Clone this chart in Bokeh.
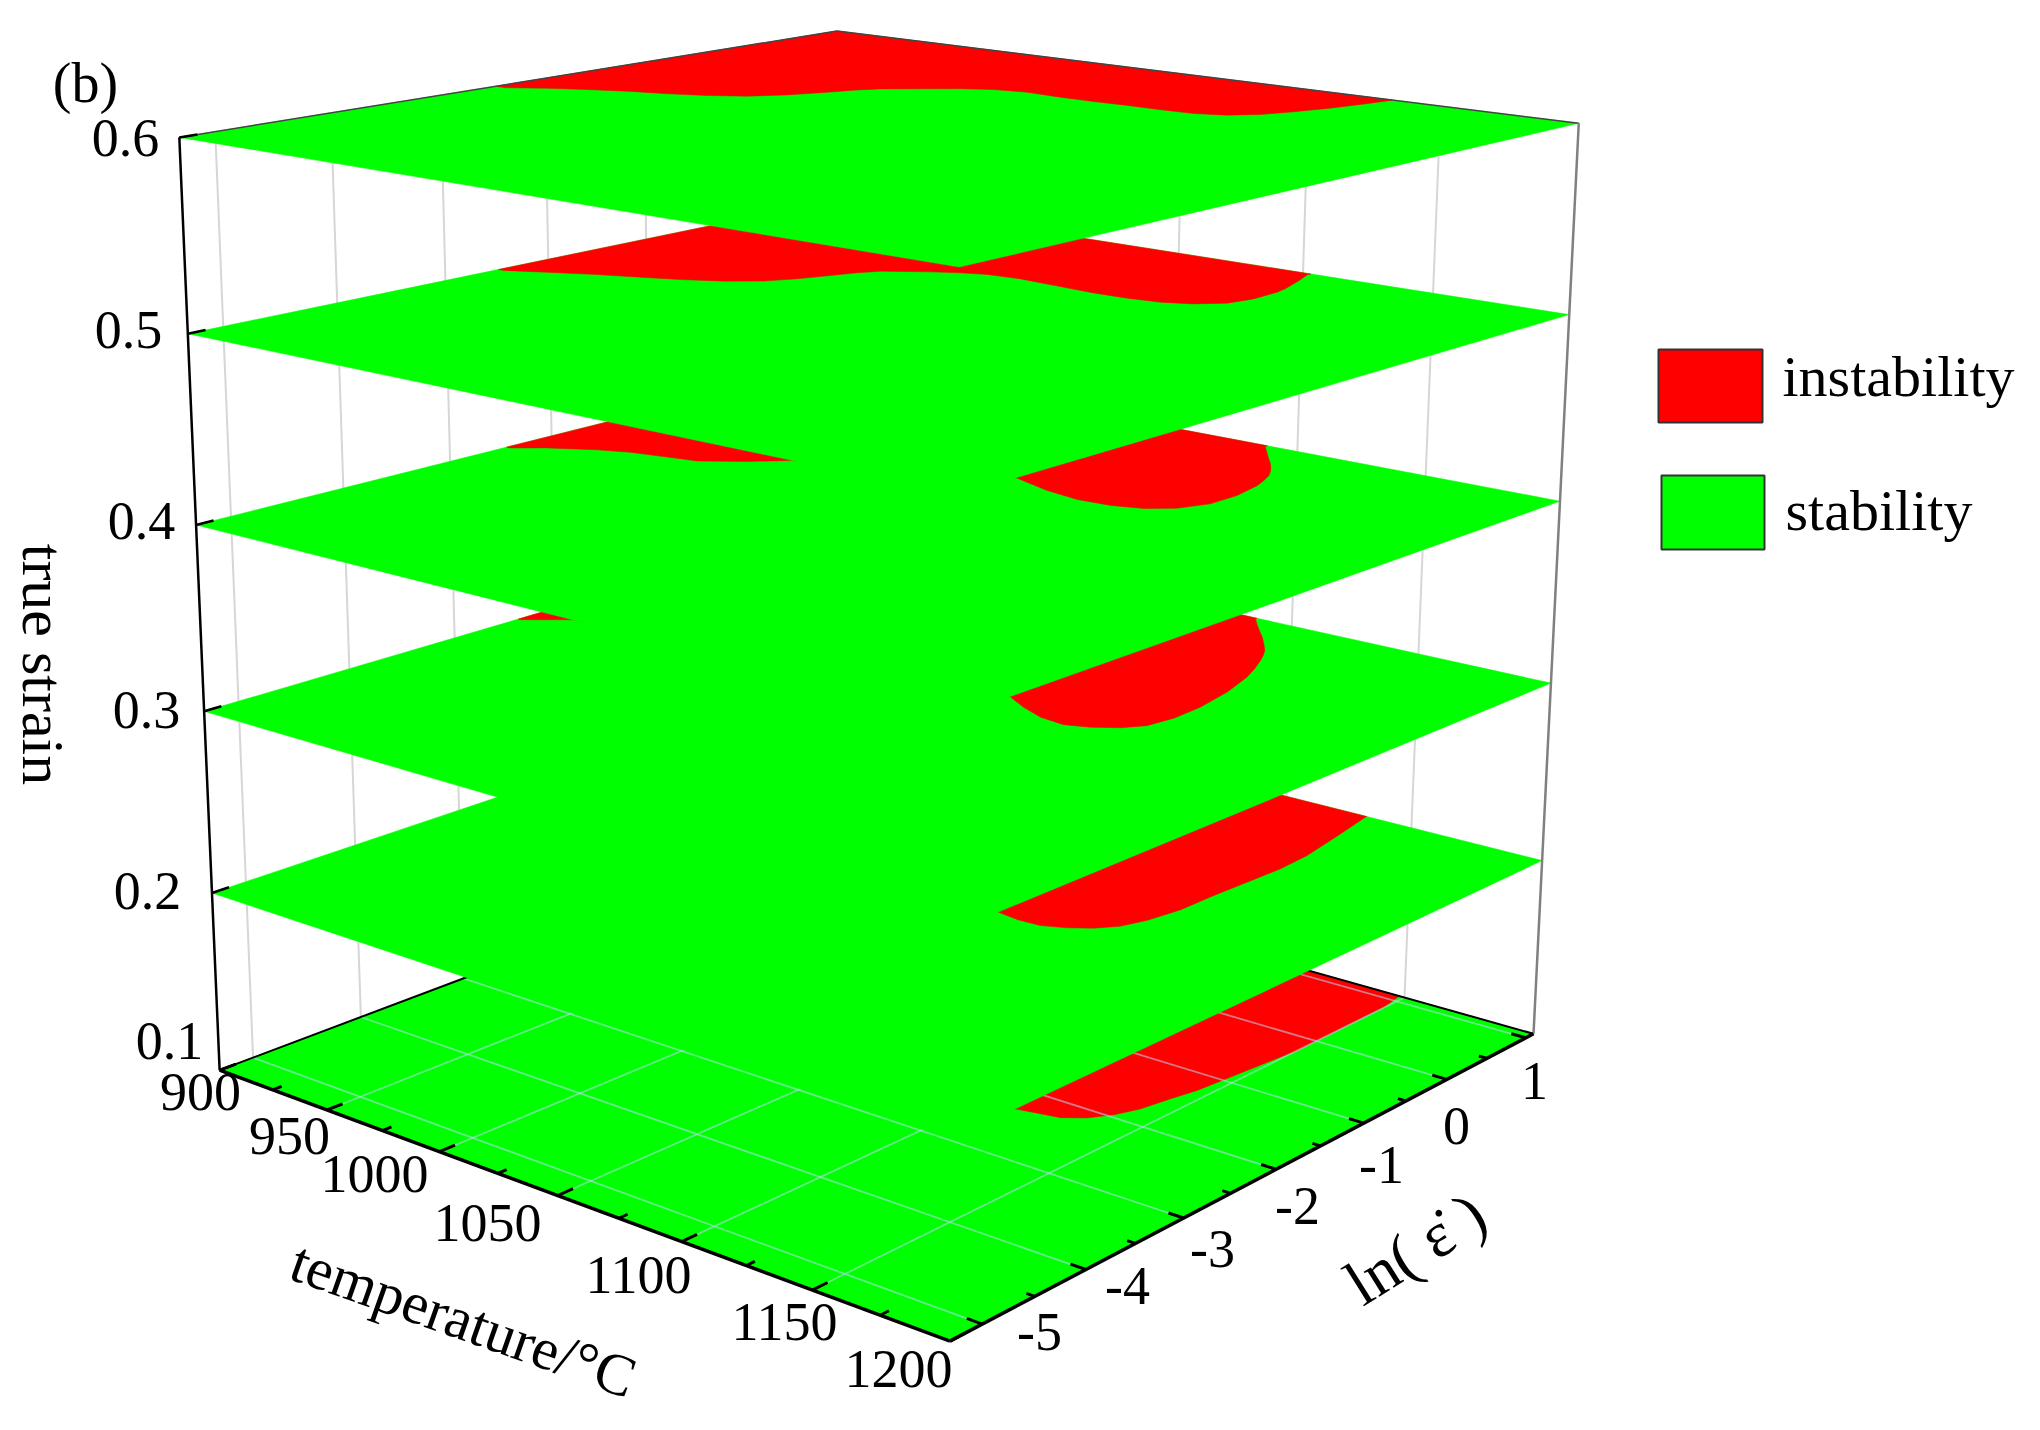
import numpy as np
from bokeh.plotting import figure
from bokeh.embed import file_html
from bokeh.resources import INLINE
from bokeh.core.properties import value

# ---- axes ----
T_MIN, T_MAX = 900.0, 1200.0
R_MIN, R_MAX = -5.3, 1.1
S_MIN, S_MAX = 0.1, 0.6
levels = [0.1, 0.2, 0.3, 0.4, 0.5, 0.6]
T_major = [900, 950, 1000, 1050, 1100, 1150, 1200]
T_minor = [925, 975, 1025, 1075, 1125, 1175]
R_major = [-5, -4, -3, -2, -1, 0, 1]
R_minor = [-4.5, -3.5, -2.5, -1.5, -0.5, 0.5]
T_labels = ["900", "950", "1000", "1050", "1100", "1150", "1200"]
R_labels = ["-5", "-4", "-3", "-2", "-1", "0", "1"]
S_labels = ["0.1", "0.2", "0.3", "0.4", "0.5", "0.6"]

# ---- instability boundary on each strain level (temperature, ln strain rate) ----
T6 = [904.7,915.2,926.7,939.9,951.9,963.7,974.1,981.8,987.4,991.4,996.0,1008.0,1015.2,1024.1,1035.5,1049.7,
      1063.0,1075.7,1088.6,1100.6,1110.2,1117.2,1122.0,1126.1,1129.4,1132.0]
R6 = [-2.48,-2.31,-2.17,-2.03,-1.94,-1.82,-1.66,-1.44,-1.20,-0.98,-0.82,-0.59,-0.45,-0.33,-0.27,-0.29,
      -0.29,-0.27,-0.27,-0.25,-0.16,0.01,0.25,0.51,0.80,1.08]
T5 = [902.5,915.0,929.8,943.3,955.6,967.9,977.5,983.1,987.6,991.2,995.1,1008.0,1016.4,1024.6,1037.2,1054.5,
      1068.6,1081.6,1093.2,1102.6,1109.9,1112.3,1111.8,1110.7,1108.1,1106.0,1103.0]
R5 = [-2.49,-2.34,-2.17,-2.04,-1.92,-1.76,-1.58,-1.37,-1.13,-0.94,-0.79,-0.58,-0.47,-0.39,-0.36,-0.39,
      -0.41,-0.40,-0.36,-0.26,-0.09,0.14,0.43,0.56,0.74,0.88,1.06]
T4 = [901.7,910.7,925.1,935.5,947.8,960.3,972.9,983.0,1052.3,1070.1,1084.3,1096.8,1106.9,1114.5,1119.1,1119.3,
      1116.6,1114.4,1111.8,1109.6,1107.2,1103.1,1098.8,1088.1]
R4 = [-2.45,-2.28,-2.09,-1.99,-1.93,-1.87,-1.65,-1.43,-0.79,-0.93,-0.99,-0.97,-0.89,-0.74,-0.50,-0.20,
      0.12,0.26,0.40,0.48,0.56,0.68,0.79,1.07]
T3 = [901.2,914.3,1079.2,1089.4,1099.8,1109.9,1117.7,1125.1,1129.9,1131.6,1131.0,1127.9,1123.1,1119.5,1115.5,1112.9,
      1109.9,1105.2,1100.3,1095.6,1091.0,1085.9]
R3 = [-2.37,-2.13,-1.55,-1.68,-1.78,-1.81,-1.74,-1.62,-1.47,-1.22,-0.91,-0.51,-0.14,0.06,0.25,0.36,
      0.47,0.60,0.73,0.84,0.95,1.08]
T2 = [1053.4,1097.9,1106.6,1115.1,1122.6,1129.0,1134.1,1137.3,1139.4,1139.5,1140.2,1140.8,1139.9,1137.1,1134.5,1132.4]
R2 = [-1.60,-2.15,-2.18,-2.17,-2.09,-1.98,-1.84,-1.63,-1.32,-0.95,-0.59,-0.22,0.13,0.50,0.83,1.08]
T1 = [1073.2,1111.4,1118.7,1126.4,1132.7,1137.5,1140.9,1143.1,1145.4,1146.9,1148.4,1150.0,1149.9,1149.8,1149.7,1148.0]
R1 = [-1.88,-2.31,-2.27,-2.23,-2.12,-1.96,-1.77,-1.50,-1.26,-0.92,-0.58,-0.23,0.18,0.59,0.85,1.09]
unstable = {0.6:(T6,R6), 0.5:(T5,R5), 0.4:(T4,R4), 0.3:(T3,R3), 0.2:(T2,R2), 0.1:(T1,R1)}

# ---- calibration of the perspective scale: box corners (T, rate, strain) and where they lie on the page ----
anchors = [
 (900,R_MIN,0.6,177.6,136.8),(900,R_MAX,0.6,836,31),(1200,R_MAX,0.6,1578.2,122.2),(1200,R_MIN,0.6,961.7,266),
 (900,R_MIN,0.5,187.4,332.9),(1200,R_MAX,0.5,1567.8,313.7),(1200,R_MIN,0.5,959.2,495.2),
 (900,R_MIN,0.4,197.1,524.4),(1200,R_MAX,0.4,1558.7,500.7),(1200,R_MIN,0.4,954.5,716.7),
 (900,R_MIN,0.3,203.6,709),(1200,R_MAX,0.3,1550.3,681.7),(1200,R_MIN,0.3,947.8,932.6),
 (900,R_MIN,0.2,212.1,892.8),(1200,R_MAX,0.2,1542.4,860),(1200,R_MIN,0.2,950,1139),
 (900,R_MIN,0.1,218,1069.3),(1200,R_MAX,0.1,1534,1032.8),(1200,R_MIN,0.1,951.2,1338.8),(900,R_MAX,0.1,836.7,838.8),
]
def norm(T,R,S):
    return (np.asarray(T,float)-T_MIN)/(T_MAX-T_MIN),(np.asarray(R,float)-R_MIN)/(R_MAX-R_MIN),(np.asarray(S,float)-S_MIN)/(S_MAX-S_MIN)
A=[];b=[]
for T,R,S,u,v in anchors:
    t,r,s=norm(T,R,S)
    A.append([t,r,s,1,0,0,0,0,-u*t,-u*r,-u*s]);b.append(u)
    A.append([0,0,0,0,t,r,s,1,-v*t,-v*r,-v*s]);b.append(v)
M=np.append(np.linalg.lstsq(np.array(A),np.array(b),rcond=None)[0],1).reshape(3,4)
def proj(T,R,S):
    T,R,S=np.broadcast_arrays(np.asarray(T,float),np.asarray(R,float),np.asarray(S,float))
    t,r,s=norm(T,R,S)
    h=M@np.vstack([t,r,s,np.ones_like(t)])
    return h[0]/h[2],h[1]/h[2]

GREEN="#00ff00";RED="#ff0000"
p=figure(width=2040,height=1430,x_range=(0,2040),y_range=(1430,0),output_backend="svg",toolbar_location=None,min_border=0,x_axis_type=None,y_axis_type=None)
p.grid.visible=False
p.outline_line_color=None
def seg(a,b,**kw):
    x,y=proj([a[0],b[0]],[a[1],b[1]],[a[2],b[2]])
    p.line(x,y,**kw)
WALL=dict(line_color="#d6d6d6",line_width=2)
for R in R_major: seg((T_MIN,R,S_MIN),(T_MIN,R,S_MAX),**WALL)
for T in T_major[1:-1]: seg((T,R_MAX,S_MIN),(T,R_MAX,S_MAX),**WALL)
GRID=dict(line_color="#b8d8f8",line_width=1.8,line_alpha=0.55)
for i,S in enumerate(levels):
    x,y=proj([T_MIN,T_MAX,T_MAX,T_MIN],[R_MIN,R_MIN,R_MAX,R_MAX],S)
    p.patch(x,y,fill_color=GREEN,line_color=GREEN,line_width=0.5)
    Ts,Rs=unstable[S]
    x,y=proj(list(Ts)+[Ts[-1],T_MIN,T_MIN],list(Rs)+[R_MAX,R_MAX,Rs[0]],S)
    p.patch(x,y,fill_color=RED,line_color=RED,line_width=0.5)
    if i==0:
        for T in T_major[1:-1]: seg((T,R_MIN,S),(T,R_MAX,S),**GRID)
        for R in R_major: seg((T_MIN,R,S),(T_MAX,R,S),**GRID)
        seg((T_MIN,R_MAX,S),(T_MAX,R_MAX,S),line_color="black",line_width=2)
        seg((T_MIN,R_MIN,S),(T_MIN,R_MAX,S),line_color="black",line_width=2)
seg((T_MIN,R_MIN,S_MAX),(T_MIN,R_MAX,S_MAX),line_color="#444444",line_width=1.5)
seg((T_MIN,R_MAX,S_MAX),(T_MAX,R_MAX,S_MAX),line_color="#444444",line_width=1.5)
seg((T_MIN,R_MIN,S_MIN),(T_MIN,R_MIN,S_MAX),line_color="black",line_width=2.5)
seg((T_MAX,R_MAX,S_MIN),(T_MAX,R_MAX,S_MAX),line_color="#808080",line_width=2.5)
seg((T_MIN,R_MIN,S_MIN),(T_MAX,R_MIN,S_MIN),line_color="black",line_width=3.5)
seg((T_MAX,R_MIN,S_MIN),(T_MAX,R_MAX,S_MIN),line_color="black",line_width=3.5)
for T in T_major: seg((T,R_MIN,S_MIN),(T,R_MIN+0.14,S_MIN),line_color="black",line_width=3)
for T in T_minor: seg((T,R_MIN,S_MIN),(T,R_MIN+0.08,S_MIN),line_color="black",line_width=3)
for R in R_major: seg((T_MAX,R,S_MIN),(T_MAX-5.5,R,S_MIN),line_color="black",line_width=3)
for R in R_minor: seg((T_MAX,R,S_MIN),(T_MAX-3,R,S_MIN),line_color="black",line_width=3)
for S in levels: seg((T_MIN,R_MIN,S),(T_MIN,R_MIN+0.15,S),line_color="black",line_width=2.5)

F=value("Liberation Serif")
def label(x,y,t,size,angle=0.0,align="center"):
    p.text([x],[y],text=[t],text_font=F,text_font_size=size,text_align=align,text_baseline="middle",text_color="black",angle=angle)
for t,x,y in zip(T_labels,[200,289,374,487,638,784,898],[1091,1135,1173,1222,1274,1321,1368]): label(x,y,t,"54px")
for t,x,y in zip(R_labels,[1039,1127,1212,1297,1381,1456,1534],[1331,1285,1248,1205,1164,1125,1080]): label(x,y,t,"54px")
for t,x,y in zip(S_labels,[169,147,146,141,128,125],[1040,890,709,520,329,137]): label(x,y,t,"54px")
label(85,82,"(b)","56px")
label(42,664,"true strain","60px",angle=-np.pi/2)
label(463,1319,"temperature/°C","59px",angle=-0.34)
label(1415,1248,"ln( \u03b5\u0307 )","64px",angle=0.56)
p.quad(left=[1658],right=[1762],top=[349],bottom=[422],fill_color=RED,line_color="#333333",line_width=2)
p.quad(left=[1661],right=[1764],top=[475],bottom=[549],fill_color=GREEN,line_color="#333333",line_width=2)
label(1782,376,"instability","58px",align="left")
label(1785,510,"stability","58px",align="left")
open("out.html","w").write(file_html(p,INLINE))
